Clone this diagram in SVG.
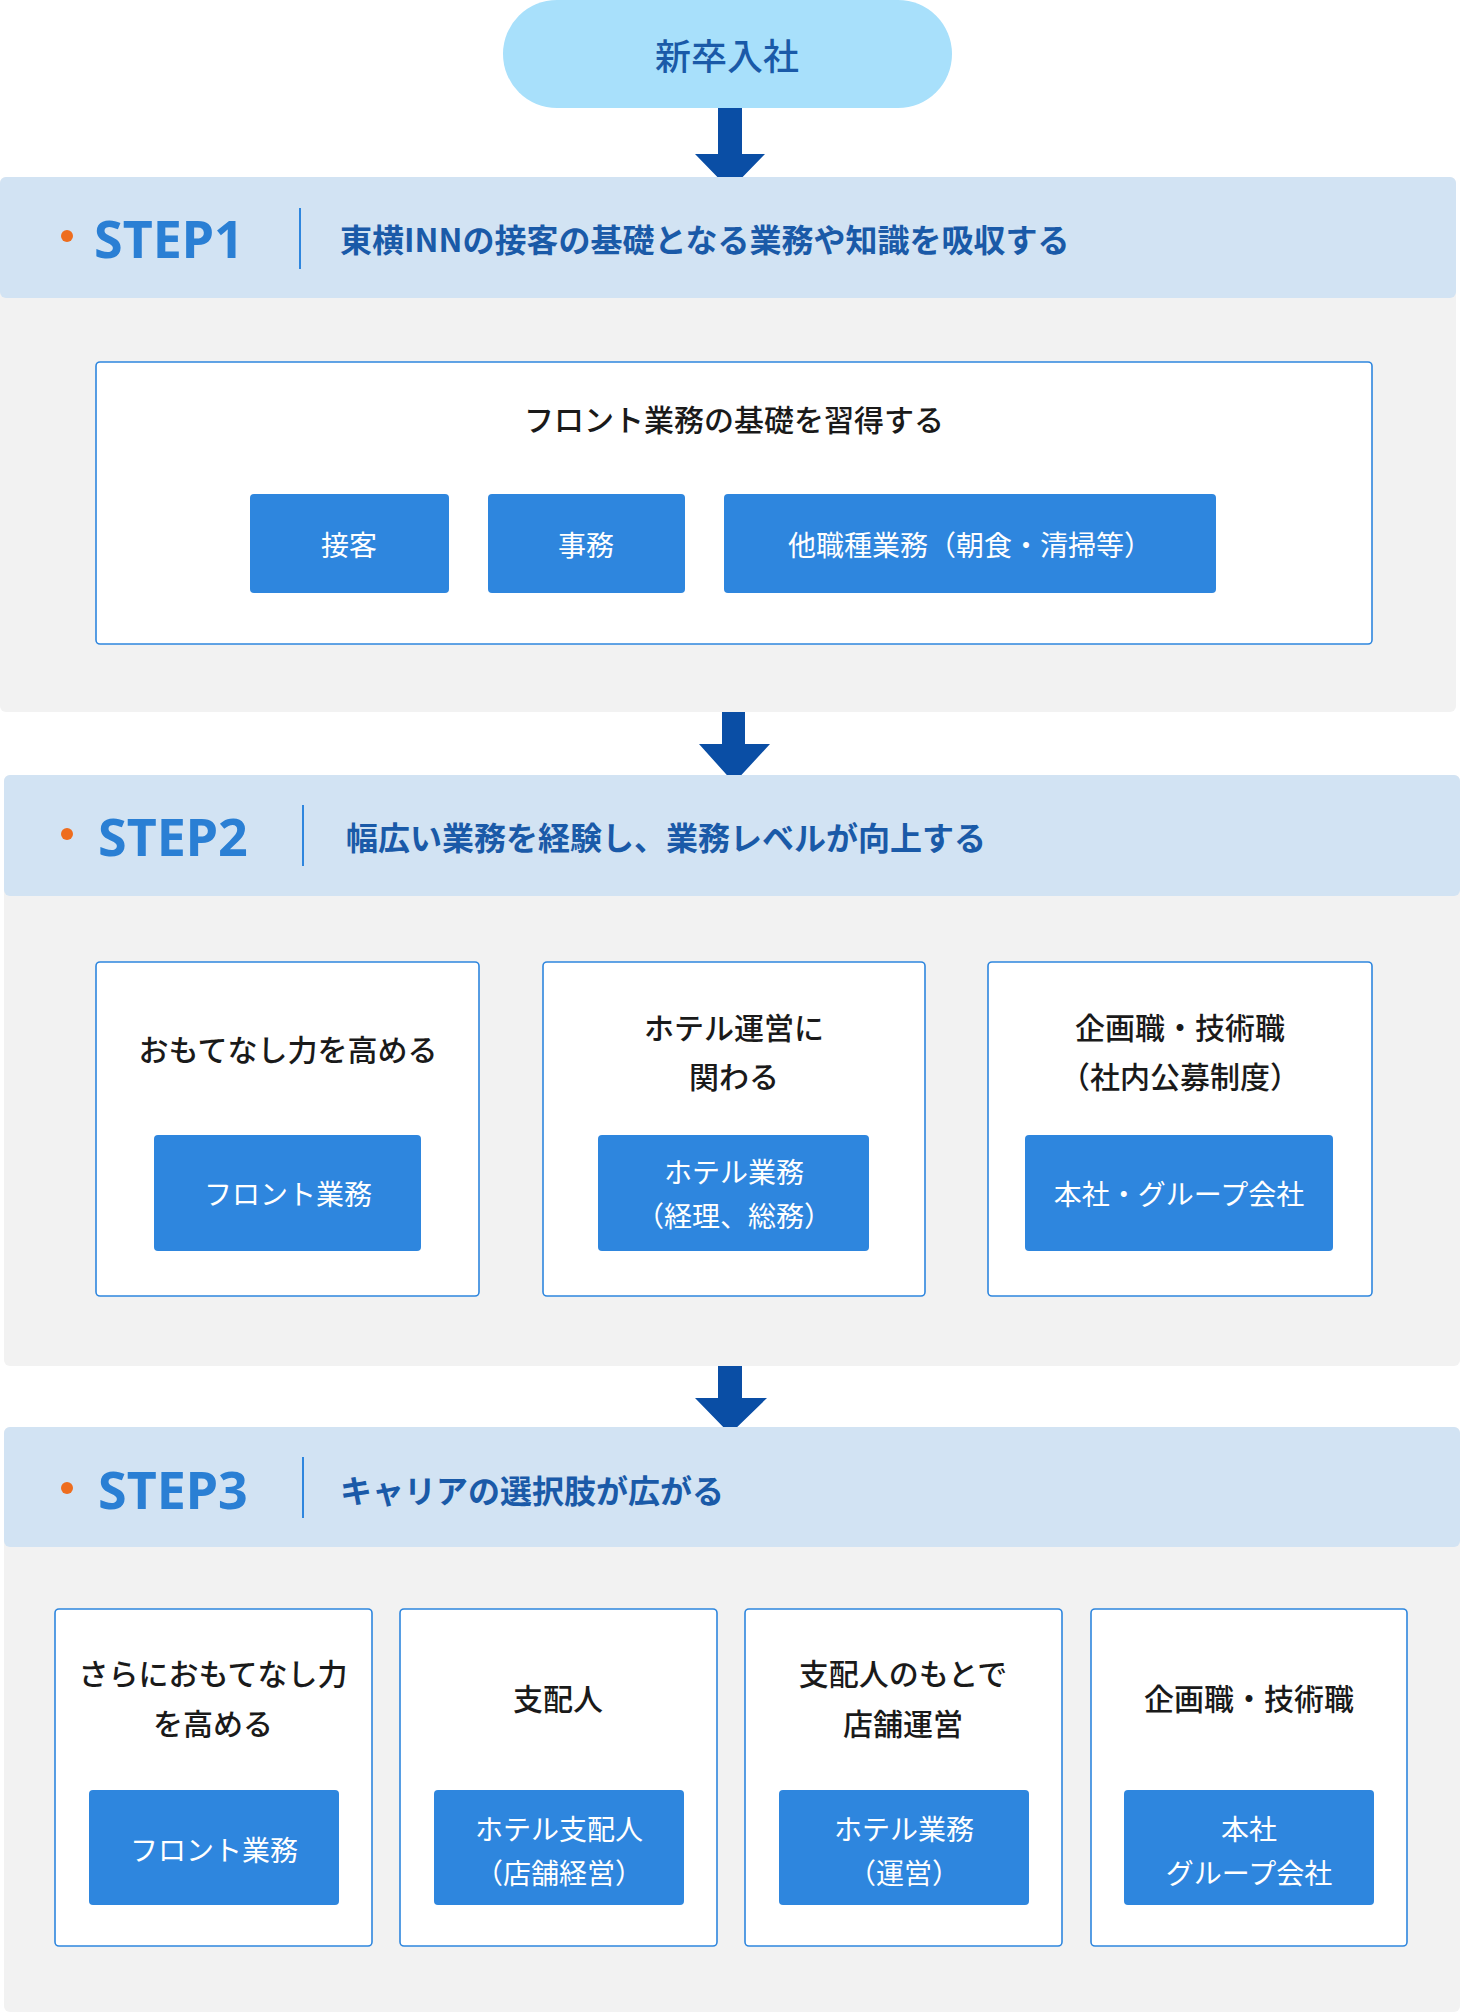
<svg xmlns="http://www.w3.org/2000/svg" width="1460" height="2012" viewBox="0 0 1460 2012">
<style>
text{font-family:"Noto Sans CJK JP","Noto Sans",sans-serif}
.hd{fill:#d2e3f3}.bd{fill:#f2f2f2}
.box{fill:#fff;stroke:#2e86de;stroke-width:1.6}
.btn{fill:#2e86de}
.bt{fill:#fff;font-size:28px;text-anchor:middle;dominant-baseline:central}
.tt{fill:#1a1a1a;font-size:30px;font-weight:500;text-anchor:middle;dominant-baseline:central}
.st{fill:#2a7fd4;font-size:52px;font-weight:700;font-family:"Noto Sans","Open Sans",sans-serif;dominant-baseline:central}
.ht{fill:#1a5aa8;font-size:32px;font-weight:700;dominant-baseline:central}
.dot{fill:#ee6d1e}
.dv{stroke:#2e86de;stroke-width:2}
.arr{fill:#0a4ea5}
</style>
<g id="start"><rect x="503" y="0" width="449" height="108" rx="54" fill="#a8e0fb"/><text x="727" y="54" class="ht" style="font-size:36px;font-weight:500;text-anchor:middle" fill="#0a4ea5">新卒入社</text></g>
<g id="connectors">
<path class="arr" d="M718 108h24v46h23l-35 36l-35-36h23z"/>
<path class="arr" d="M722 690h23v54h25l-36 39l-35-39h23z"/>
<path class="arr" d="M718 1341h24v57h25l-37 36l-35-36h23z"/>
</g>
<g id="step1">
<rect class="bd" x="0" y="177" width="1456" height="535" rx="6"/>
<rect class="hd" x="0" y="177" width="1456" height="121" rx="6"/>
<circle class="dot" cx="67" cy="236" r="6"/>
<text class="st" x="94" y="237">STEP1</text>
<line class="dv" x1="300" y1="208" x2="300" y2="269"/>
<text class="ht" x="340" y="238">東横INNの接客の基礎となる業務や知識を吸収する</text>
<rect class="box" x="96" y="362" width="1276" height="282" rx="4"/>
<text class="tt" x="734" y="418">フロント業務の基礎を習得する</text>
<rect class="btn" x="250" y="494" width="199" height="99" rx="4"/><text class="bt" x="349" y="544">接客</text>
<rect class="btn" x="488" y="494" width="197" height="99" rx="4"/><text class="bt" x="586" y="544">事務</text>
<rect class="btn" x="724" y="494" width="492" height="99" rx="4"/><text class="bt" x="970" y="544">他職種業務（朝食・清掃等）</text>
</g>
<g id="step2">
<rect class="bd" x="4" y="775" width="1456" height="591" rx="6"/>
<rect class="hd" x="4" y="775" width="1456" height="121" rx="6"/>
<circle class="dot" cx="67" cy="834" r="6"/>
<text class="st" x="98" y="835">STEP2</text>
<line class="dv" x1="303" y1="805" x2="303" y2="866"/>
<text class="ht" x="346" y="836">幅広い業務を経験し、業務レベルが向上する</text>
<rect class="box" x="96" y="962" width="383" height="334" rx="4"/>
<text class="tt" x="288" y="1048">おもてなし力を高める</text>
<rect class="btn" x="154" y="1135" width="267" height="116" rx="4"/><text class="bt" x="288" y="1193">フロント業務</text>
<rect class="box" x="543" y="962" width="382" height="334" rx="4"/>
<text class="tt" x="734" y="1026">ホテル運営に</text><text class="tt" x="734" y="1075">関わる</text>
<rect class="btn" x="598" y="1135" width="271" height="116" rx="4"/><text class="bt" x="734" y="1171">ホテル業務</text><text class="bt" x="734" y="1215">（経理、総務）</text>
<rect class="box" x="988" y="962" width="384" height="334" rx="4"/>
<text class="tt" x="1180" y="1026">企画職・技術職</text><text class="tt" x="1180" y="1075">（社内公募制度）</text>
<rect class="btn" x="1025" y="1135" width="308" height="116" rx="4"/><text class="bt" x="1179" y="1193">本社・グループ会社</text>
</g>
<g id="step3">
<rect class="bd" x="4" y="1427" width="1456" height="585" rx="6"/>
<rect class="hd" x="4" y="1427" width="1456" height="120" rx="6"/>
<circle class="dot" cx="67" cy="1488" r="6"/>
<text class="st" x="98" y="1488">STEP3</text>
<line class="dv" x1="303" y1="1457" x2="303" y2="1518"/>
<text class="ht" x="340" y="1489">キャリアの選択肢が広がる</text>
<rect class="box" x="55" y="1609" width="317" height="337" rx="4"/>
<text class="tt" x="213" y="1672">さらにおもてなし力</text><text class="tt" x="213" y="1722">を高める</text>
<rect class="btn" x="89" y="1790" width="250" height="115" rx="4"/><text class="bt" x="214" y="1849">フロント業務</text>
<rect class="box" x="400" y="1609" width="317" height="337" rx="4"/>
<text class="tt" x="558" y="1697">支配人</text>
<rect class="btn" x="434" y="1790" width="250" height="115" rx="4"/><text class="bt" x="559" y="1828">ホテル支配人</text><text class="bt" x="559" y="1872">（店舗経営）</text>
<rect class="box" x="745" y="1609" width="317" height="337" rx="4"/>
<text class="tt" x="903" y="1672">支配人のもとで</text><text class="tt" x="903" y="1722">店舗運営</text>
<rect class="btn" x="779" y="1790" width="250" height="115" rx="4"/><text class="bt" x="904" y="1828">ホテル業務</text><text class="bt" x="904" y="1872">（運営）</text>
<rect class="box" x="1091" y="1609" width="316" height="337" rx="4"/>
<text class="tt" x="1249" y="1697">企画職・技術職</text>
<rect class="btn" x="1124" y="1790" width="250" height="115" rx="4"/><text class="bt" x="1249" y="1828">本社</text><text class="bt" x="1249" y="1872">グループ会社</text>
</g>
</svg>
